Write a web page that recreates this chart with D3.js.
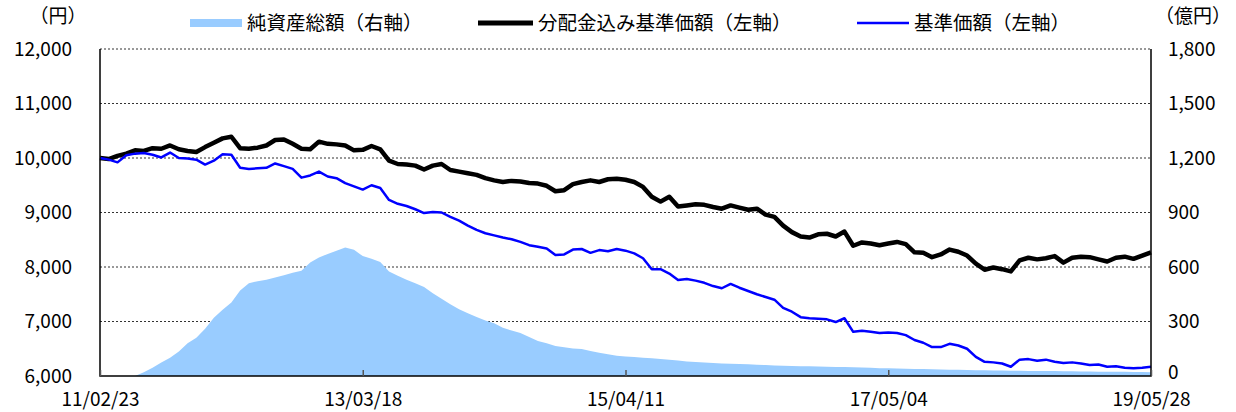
<!DOCTYPE html>
<html>
<head>
<meta charset="utf-8">
<script src="https://cdn.jsdelivr.net/npm/d3@7"></script>
<style>
  body { margin: 0; background: #fff; }
  svg text { font-family: "Noto Sans CJK JP", "Noto Sans", sans-serif; fill: #000; }
</style>
</head>
<body>
<div id="chart"></div>
<script>
// series names (legend order)
const seriesNames = ["純資産総額（右軸）", "分配金込み基準価額（左軸）", "基準価額（左軸）"];

// x axis labels, one every 30 points
const tickIndex = [0, 30, 60, 90, 120];
const tickLabels = ["11/02/23", "13/03/18", "15/04/11", "17/05/04", "19/05/28"];

// 分配金込み基準価額 (円)
const navWithDiv = [
  10000, 9980, 10040, 10080, 10140, 10130, 10180, 10170, 10230, 10160,
  10130, 10110, 10200, 10280, 10360, 10390, 10180, 10170, 10190, 10230,
  10330, 10340, 10260, 10170, 10160, 10300, 10260, 10250, 10230, 10140,
  10150, 10220, 10160, 9950, 9890, 9880, 9860, 9790, 9860, 9890,
  9780, 9750, 9720, 9690, 9630, 9590, 9560, 9580, 9570, 9540,
  9530, 9490, 9390, 9410, 9520, 9560, 9590, 9560, 9610, 9620,
  9600, 9560, 9470, 9290, 9200, 9290, 9110, 9130, 9150, 9140,
  9100, 9070, 9130, 9090, 9050, 9070, 8960, 8920, 8760, 8640,
  8560, 8540, 8600, 8610, 8560, 8650, 8390, 8450, 8430, 8400,
  8430, 8460, 8420, 8270, 8260, 8180, 8230, 8320, 8280, 8210,
  8060, 7950, 7990, 7960, 7920, 8120, 8170, 8140, 8160, 8200,
  8080, 8170, 8190, 8180, 8140, 8100, 8170, 8190, 8150, 8210,
  8270
];

// 基準価額 (円)
const nav = [
  10000, 9970, 9920, 10050, 10080, 10090, 10060, 10010, 10100, 10000,
  9990, 9970, 9880, 9950, 10070, 10060, 9820, 9800, 9810, 9820,
  9900, 9850, 9800, 9640, 9680, 9750, 9660, 9630, 9540, 9480,
  9420, 9500, 9450, 9230, 9160, 9120, 9060, 8990, 9010, 9000,
  8920, 8850, 8760, 8680, 8620, 8580, 8540, 8510, 8460, 8400,
  8370, 8340, 8220, 8230, 8320, 8330, 8260, 8310, 8290, 8330,
  8300, 8250, 8160, 7960, 7960, 7880, 7760, 7780, 7750, 7710,
  7650, 7610, 7690, 7620, 7560, 7500, 7450, 7400, 7250, 7180,
  7080, 7060, 7050, 7040, 6990, 7060, 6810, 6830, 6810, 6790,
  6800, 6790, 6750, 6660, 6610, 6530, 6530, 6590, 6560, 6500,
  6350, 6260, 6250, 6230, 6170, 6300, 6310, 6280, 6300, 6260,
  6240, 6250, 6230, 6200, 6210, 6170, 6180, 6150, 6140, 6150,
  6170
];

// 純資産総額 (億円)
const netAssets = [
  0, 0, 0, 0, 0, 20, 45, 75, 100, 135,
  180, 210, 260, 320, 365, 405, 470, 510, 522, 530,
  542, 555, 568, 580, 625, 652, 672, 690, 708, 695,
  660, 645, 628, 575, 552, 530, 510, 490, 455, 425,
  395, 368, 345, 325, 305, 290, 265, 250, 237, 215,
  192, 180, 165, 158, 152, 148, 138, 128, 120, 112,
  108, 104, 101, 98, 94, 90, 85, 80, 77, 74,
  71, 69, 68, 66, 64, 62, 60, 58, 56, 55,
  54, 53, 52, 51, 50, 49, 48, 47, 45, 43,
  42, 41, 40, 39, 38, 37, 36, 35, 34, 33,
  32, 31, 30, 30, 29, 29, 28, 28, 27, 27,
  26, 26, 25, 25, 24, 24, 23, 23, 22, 22,
  21
];

const leftTicks = [6000, 7000, 8000, 9000, 10000, 11000, 12000];
const rightTicks = [0, 300, 600, 900, 1200, 1500, 1800];

const W = 1236, H = 412;
const plot = {left: 100, right: 1151, top: 49, bottom: 376};

const svg = d3.select("#chart").append("svg")
    .attr("width", W)
    .attr("height", H);

const x = d3.scaleLinear().domain([0, nav.length - 1]).range([plot.left, plot.right]);
const yL = d3.scaleLinear().domain([6000, 12000]).range([plot.bottom, plot.top]);
const yR = d3.scaleLinear().domain([0, 1800]).range([plot.bottom, plot.top]);

// gridlines
svg.append("g").selectAll("line")
    .data(leftTicks.slice(1))
    .enter().append("line")
    .attr("x1", plot.left).attr("x2", plot.right)
    .attr("y1", d => yL(d)).attr("y2", d => yL(d))
    .attr("stroke", "#333")
    .attr("stroke-width", 1)
    .attr("stroke-dasharray", "2,2");

// net assets area
svg.append("path")
    .datum(netAssets)
    .attr("fill", "#99ccff")
    .attr("d", d3.area()
        .x((d, i) => x(i))
        .y0(yR(0))
        .y1(d => yR(d)));

// lines
svg.append("path")
    .datum(navWithDiv)
    .attr("fill", "none")
    .attr("stroke", "#000")
    .attr("stroke-width", 4.5)
    .attr("stroke-linejoin", "round")
    .attr("d", d3.line().x((d, i) => x(i)).y(d => yL(d)));

svg.append("path")
    .datum(nav)
    .attr("fill", "none")
    .attr("stroke", "#0000ff")
    .attr("stroke-width", 2.5)
    .attr("stroke-linejoin", "round")
    .attr("d", d3.line().x((d, i) => x(i)).y(d => yL(d)));

// frame: left, right, bottom
svg.append("path")
    .attr("fill", "none")
    .attr("stroke", "#000")
    .attr("stroke-width", 1.5)
    .attr("d", `M${plot.left},${plot.top}V${plot.bottom}H${plot.right}V${plot.top}`);

// axes
const gL = svg.append("g")
    .attr("transform", `translate(${plot.left},0)`)
    .call(d3.axisLeft(yL).tickValues(leftTicks).tickFormat(d3.format(",")).tickSize(0).tickPadding(28));

const gR = svg.append("g")
    .attr("transform", `translate(${plot.right},0)`)
    .call(d3.axisRight(yR).tickValues(rightTicks).tickFormat(d3.format(",")).tickSize(0).tickPadding(17));

const gX = svg.append("g")
    .attr("transform", `translate(0,${plot.bottom})`)
    .call(d3.axisBottom(x).tickValues(tickIndex)
        .tickFormat((d, i) => tickLabels[i])
        .tickSizeInner(-6).tickSizeOuter(0).tickPadding(17));

[gL, gR, gX].forEach(g => {
    g.select(".domain").remove();
    g.selectAll("text").style("font-size", "19px").attr("fill", "#000");
});
gX.selectAll(".tick line").attr("stroke", "#555").attr("stroke-width", 1.5);
// lift the right axis "0" a little so it clears the last date label
gR.selectAll(".tick").filter(d => d === 0).select("text").attr("y", -4);

// unit labels
svg.append("text").attr("x", 58).attr("y", 16).attr("dy", "0.35em")
    .attr("text-anchor", "middle").style("font-size", "19px").text("（円）");
svg.append("text").attr("x", 1193).attr("y", 16).attr("dy", "0.35em")
    .attr("text-anchor", "middle").style("font-size", "19px").text("（億円）");

// legend
const legend = [
    {x: 190, w: 52, type: "rect", color: "#99ccff"},
    {x: 478, w: 55, type: "line", color: "#000", sw: 5},
    {x: 857, w: 52, type: "line", color: "#0000ff", sw: 2.5}
];
const ly = 23;
legend.forEach((l, i) => {
    if (l.type === "rect") {
        svg.append("rect").attr("x", l.x).attr("y", ly - 4).attr("width", l.w).attr("height", 8).attr("fill", l.color);
    } else {
        svg.append("line").attr("x1", l.x).attr("x2", l.x + l.w).attr("y1", ly).attr("y2", ly)
            .attr("stroke", l.color).attr("stroke-width", l.sw);
    }
    svg.append("text").attr("x", l.x + l.w + 5).attr("y", ly).attr("dy", "0.35em")
        .style("font-size", "19.5px").text(seriesNames[i]);
});
</script>
</body>
</html>
